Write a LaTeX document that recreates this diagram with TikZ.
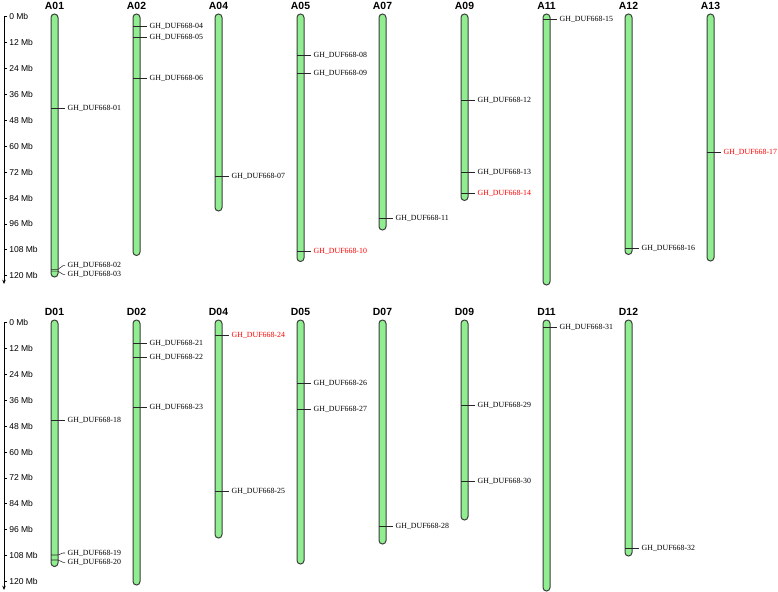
\documentclass[tikz,border=0pt]{standalone}
\usepackage{fontspec}
\setmainfont{Liberation Serif}
\setsansfont{Liberation Sans}
\usetikzlibrary{arrows.meta}
\definecolor{chromgreen}{RGB}{144,238,144}
\definecolor{chromedge}{RGB}{60,60,60}
\definecolor{genered}{RGB}{255,0,0}
\begin{document}
\begin{tikzpicture}[x=0.75pt,y=-0.75pt,
  chrom/.style={draw=chromedge, line width=0.75pt, fill=chromgreen, rounded corners=2.6pt},
  hdr/.style={font=\sffamily\bfseries\fontsize{7.8}{8}\selectfont, inner sep=0pt},
  axlab/.style={font=\sffamily\fontsize{6.4}{7}\selectfont, anchor=west, inner sep=0pt},
  gene/.style={font=\fontsize{5.9}{6}\selectfont, anchor=west, inner xsep=1.8pt, inner ysep=0pt},
  markline/.style={draw=black!85, line width=0.4pt},
  axisline/.style={draw=black, line width=0.6pt},
]
\useasboundingbox (0,0) rectangle (778,592);

% axes
\foreach \p/\off/\endy in {t/16.7/284, b/322.5/590} {
  \coordinate (ax\p0) at (4,\off);
  \coordinate (ax\p end) at (4,\endy);
  \coordinate (ax\p tick) at (7,\off);
  \draw[axisline, -{Stealth[length=3.2pt,width=2.6pt]}] (ax\p tick) -- (ax\p0) -- (ax\p end);
  \node[axlab] (axl\p0) at (9,\off) {0 Mb};
  \foreach \i in {1,...,10} {
    \pgfmathtruncatemacro{\mb}{12*\i}
    \coordinate (axt\p\i) at (4,\off+25.9*\i);
    \draw[axisline] (axt\p\i) -- ++(3,0);
    \node[axlab] (axl\p\i) at (9,\off+25.9*\i) {\mb{} Mb};
  }
}

% chromosomes
\foreach \n/\x/\top/\b/\hy in {
  A01/54.5/14/277/6, A02/136.5/14/255.5/6, A04/218.5/14/211/6, A05/300.5/14/261.5/6,
  A07/382.5/14/230/6, A09/464.5/14/200.5/6, A11/546.5/14/285/6, A12/628.5/14/254.5/6,
  A13/710.5/14/261/6,
  D01/54.5/320/566.5/311.5, D02/136.5/320/585/311.5, D04/218.5/320/538/311.5,
  D05/300.5/320/564/311.5, D07/382.5/320/544/311.5, D09/464.5/320/520/311.5,
  D11/546.5/320/591/311.5, D12/628.5/320/556/311.5} {
  \node[hdr] (h\n) at (\x,\hy) {\n};
  \draw[chrom] (\x-3.5,\top) rectangle (\x+3.5,\b);
}

% genes
\foreach \x/\y/\id/\col in {
  54.5/108.3/01/black, 136.5/26/04/black, 136.5/37.7/05/black, 136.5/78.3/06/black,
  218.5/176/07/black, 300.5/55/08/black, 300.5/73/09/black, 300.5/251/10/genered,
  382.5/218/11/black, 464.5/100/12/black, 464.5/172.3/13/black, 464.5/193.7/14/genered,
  546.5/19/15/black, 628.5/248/16/black, 710.5/152/17/genered,
  54.5/420/18/black, 136.5/343/21/black, 136.5/357/22/black, 136.5/407/23/black,
  218.5/335/24/genered, 218.5/491/25/black, 300.5/383.3/26/black, 300.5/409/27/black,
  382.5/526/28/black, 464.5/405/29/black, 464.5/481/30/black, 546.5/327/31/black,
  628.5/548.3/32/black} {
  \coordinate (c\id) at (\x-3.5,\y);
  \node[gene, text=\col] (g\id) at (\x+10.5,\y) {GH\_DUF668-\id};
  \draw[markline] (c\id) -- (g\id.west);
}

% close pairs with bent leaders
\foreach \x/\y/\ly/\id in {54.5/269.3/265.7/02, 54.5/271.2/274.3/03,
                           54.5/555/553/19, 54.5/560/562.3/20} {
  \coordinate (c\id) at (\x-3.5,\y);
  \coordinate (k\id) at (\x+3.5,\y);
  \node[gene] (g\id) at (\x+10.5,\ly) {GH\_DUF668-\id};
  \draw[markline] (c\id) -- (k\id) -- ([xshift=-1.5pt]g\id.west) -- (g\id.west);
}
\end{tikzpicture}
\end{document}
